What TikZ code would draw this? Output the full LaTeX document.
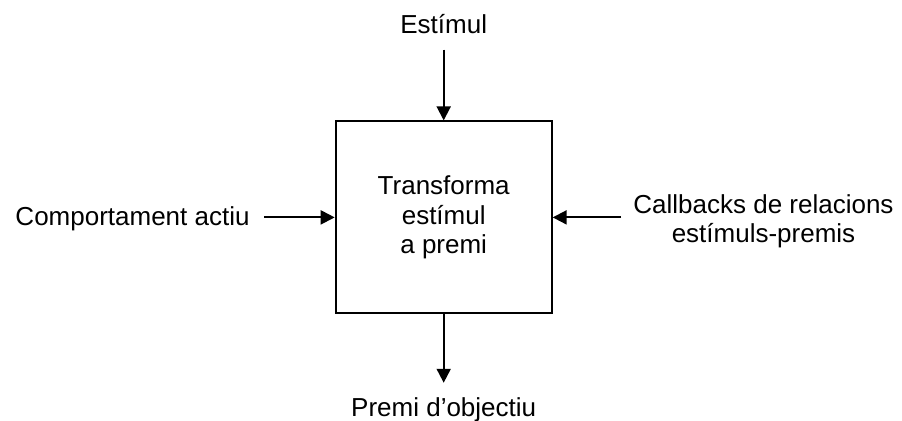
\documentclass[tikz,border=0pt]{standalone}
\usepackage{fontspec}
\setmainfont{Liberation Sans}
\usetikzlibrary{arrows.meta}

\begin{document}
\begin{tikzpicture}[x=0.5pt,y=-0.5pt,
	font=\fontsize{13}{14.6}\selectfont,
	procbox/.style={draw,line width=1pt,minimum width=108pt,minimum height=96pt,align=center},
	lbl/.style={inner sep=0pt,align=center},
	flow/.style={-{Triangle[length=7pt,width=7pt]},line width=1pt}]
	\useasboundingbox (0,0) rectangle (902,421);
	
	\node[procbox] (trans) at (443.7,217.4) {Transforma\\estímul\\a premi};
	
	\node[lbl,anchor=base] (stim) at (443.7,34) {Estímul};
	\draw[flow,shorten <=7.5pt] (stim) -- (trans);
	
	\node[lbl,anchor=base east] (act) at (250,226) {Comportament actiu};
	\draw[flow,shorten <=7pt] (act.east |- trans.west) -- (trans.west);
	
	\node[lbl,anchor=north] (cb) at (763.5,194) {Callbacks de relacions\\estímuls-premis};
	\draw[flow,shorten <=6pt] (cb.west |- trans.east) -- (trans.east);
	
	\node[lbl,anchor=base] (goal) at (443.7,417) {Premi d’objectiu};
	\draw[flow,shorten >=7.5pt] (trans) -- (goal);
\end{tikzpicture}
\end{document}
